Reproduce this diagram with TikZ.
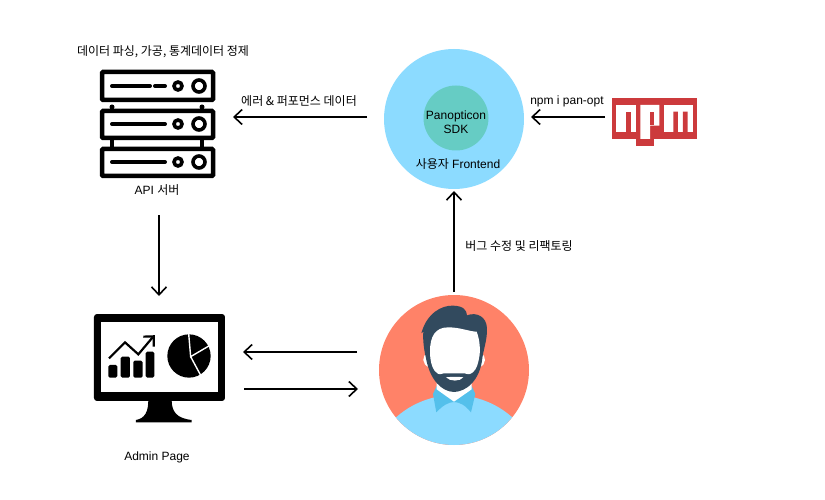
\documentclass[tikz,border=0pt]{standalone}
\usepackage{fontspec}
\setmainfont{Liberation Sans}
\newfontfamily\krfont{Noto Sans CJK KR}
\usetikzlibrary{arrows.meta}
\definecolor{cfront}{HTML}{8CDBFF}
\definecolor{csdk}{HTML}{66CCC4}
\definecolor{cskin}{HTML}{FF8268}
\definecolor{ccollar}{HTML}{54C0EB}
\definecolor{chair}{HTML}{324A5E}
\definecolor{cnpm}{HTML}{CC3A3C}
\tikzset{overview/.style={x=1pt,y=-1pt,font=\fontsize{12}{14}\selectfont}}
\tikzset{flow/.style={-{Straight Barb[length=8pt,width=15pt]},line width=1.6pt},
         iconbox/.style={inner sep=0pt,outer sep=0pt},
         hub/.style={circle,inner sep=0pt,outer sep=0pt},
         rack/.style={draw=black,line width=4.5pt,fill=white,rounded corners=1pt},
         ledge/.style={line width=4pt,line cap=round}}

\begin{document}
\begin{tikzpicture}[overview]
    \useasboundingbox (0,0) rectangle (825,500);
    % frontend
    \node[hub,fill=cfront,minimum size=140pt] (frontend) at (454,119) {};
    \node[hub,fill=csdk,minimum size=65pt] (sdk) at (456,118) {};
    \node[align=center,inner sep=0pt] (sdktext) at (456,122) {Panopticon\\SDK};
    \node[inner sep=0pt] (fronttext) at (458,164) {{\krfont 사용자} Frontend};
    % api server
    \node[iconbox,minimum width=115pt,minimum height=108pt] (server) at (157.5,124) {};
    \foreach \x in {112,202} {
      \draw[line width=4pt] (\x,136) -- (\x,150);
      \fill (\x,107) circle (2.5);
    }
    \foreach \y in {124,162} {
      \draw[rack] (102,\y-13) rectangle (213,\y+14);
      \draw[ledge] (112,\y) -- (165,\y);
    }
    \draw[rack] (102,72) rectangle (213,100);
    \draw[ledge] (112,86) -- (150,86);
    \draw[ledge] (155,86) -- (165,86);
    \foreach \y in {86,124,162} {
      \draw[line width=3.6pt] (178,\y) circle (4);
      \draw[line width=3.6pt] (199,\y) circle (6);
    }
    \node[inner sep=0pt] (servertitle) at (163,52) {\krfont 데이터 파싱, 가공, 통계데이터 정제};
    \node[inner sep=0pt] (servertext) at (157,190) {API {\krfont 서버}};
    % npm
    \node[iconbox,fill=cnpm,minimum width=85pt,minimum height=41pt] (npm) at (654.5,118.5) {};
    \begin{scope}[shift={(600,85)},x=0.3333pt,y=-0.3333pt]
      \fill[cnpm] (107,160) rectangle (163,183);
      \fill[white] (48,60) rectangle (107,142);
      \fill[white] (121,60) rectangle (178,122) (121,122) rectangle (150,162);
      \fill[white] (192,60) rectangle (278,142);
      \fill[cnpm] (78,80) rectangle (92,142);
      \fill[cnpm] (150,80) rectangle (163,120);
      \fill[cnpm] (220,80) rectangle (234,142) (249,80) rectangle (263,142);
    \end{scope}
    % admin page
    \node[iconbox,minimum width=131pt,minimum height=108pt] (monitor) at (159.5,368) {};
    \begin{scope}[shift={(80,305)},x=0.3333pt,y=-0.3333pt]
      \fill (205,285) -- (275,285) .. controls (275,320) and (290,340) .. (335,345) -- (335,352) -- (168,352) -- (168,345) .. controls (195,340) and (205,320) .. (205,285) -- cycle;
      \fill[rounded corners=3pt] (42,27) rectangle (435,288);
      \fill[white] (62,52) rectangle (415,260);
      \fill[rounded corners=1.5pt] (85,180) rectangle (112,218) (122,155) rectangle (150,218) (160,167) rectangle (188,218) (197,140) rectangle (223,218);
      \draw[line width=2.2pt] (87,160) -- (135,112) -- (175,148) -- (218,97);
      \draw[line width=2.2pt] (190,95) -- (221,94) -- (221,125);
      \fill (327,153) circle (65);
      \draw[white,line width=1.4pt] (326,85) -- (332,155) -- (395,118);
      \draw[white,line width=1.4pt] (332,155) -- (368,222);
    \end{scope}
    \node[inner sep=0pt] (admintext) at (157,457) {Admin Page};
    % user
    \node[hub,fill=cskin,minimum size=150pt] (user) at (454,370) {};
    \begin{scope}[shift={(370,290)},x=0.3333pt,y=-0.3333pt]
      \begin{scope}
        \clip (252,240) circle (225);
        \fill[cfront] (60,400) .. controls (115,340) and (190,315) .. (252,315) .. controls (315,315) and (390,340) .. (445,400) -- (445,480) -- (60,480) -- cycle;
      \end{scope}
      \fill[ccollar] (189,312) -- (200,288) -- (305,288) -- (316,312) -- (303,367) .. controls (285,345) and (270,337) .. (252,336) .. controls (235,337) and (220,345) .. (199,367) -- cycle;
      \fill[white] (200,270) -- (200,298) -- (252,335) -- (305,298) -- (305,270) -- cycle;
      \fill[white] (172,190) .. controls (155,195) and (155,225) .. (178,232) -- cycle;
      \fill[white] (332,190) .. controls (350,195) and (350,225) .. (328,232) -- cycle;
      \fill[chair] (154,130) .. controls (170,70) and (215,45) .. (250,47) .. controls (280,48) and (290,60) .. (291,76) .. controls (320,65) and (350,80) .. (351,115) .. controls (352,150) and (340,180) .. (337,205) .. controls (330,270) and (290,305) .. (252,306) .. controls (215,305) and (180,270) .. (168,205) .. controls (162,180) and (158,150) .. (160,125) -- cycle;
      \fill[white] (180,185) .. controls (180,140) and (195,112) .. (235,112) .. controls (270,112) and (300,125) .. (320,125) .. controls (330,150) and (332,185) .. (327,205) .. controls (322,235) and (312,248) .. (300,252) .. controls (295,255) and (290,250) .. (283,250) -- (222,250) .. controls (215,250) and (210,255) .. (205,252) .. controls (190,245) and (180,220) .. (180,185) -- cycle;
      \fill[white] (228,262) .. controls (245,260) and (265,260) .. (280,262) .. controls (270,275) and (240,275) .. (228,262) -- cycle;
    \end{scope}
    % connectors
    \draw[flow] ([shift={(-17,-2)}]frontend.west) -- ([shift={(18,-7)}]server.east);
    \draw[flow] ([shift={(-7,-1.5)}]npm.west) -- ([shift={(7,-2)}]frontend.east);
    \draw[flow] ([shift={(0,-3)}]user.north) -- ([shift={(0,2)}]frontend.south);
    \draw[flow] ([shift={(1.5,37)}]server.south) -- ([shift={(-0.5,-18)}]monitor.north);
    \draw[flow] ([shift={(-22,-18)}]user.west) -- ([shift={(18,-16)}]monitor.east);
    \draw[flow] ([shift={(19,21)}]monitor.east) -- ([shift={(-21,19)}]user.west);
    \node[inner sep=0pt] (errortext) at (299,101) {\krfont 에러 \& 퍼포먼스 데이터};
    \node[inner sep=0pt] (npmtext) at (567,101) {npm i pan-opt};
    \node[inner sep=0pt] (fixtext) at (519,246) {\krfont 버그 수정 및 리팩토링};
\end{tikzpicture}
\end{document}
